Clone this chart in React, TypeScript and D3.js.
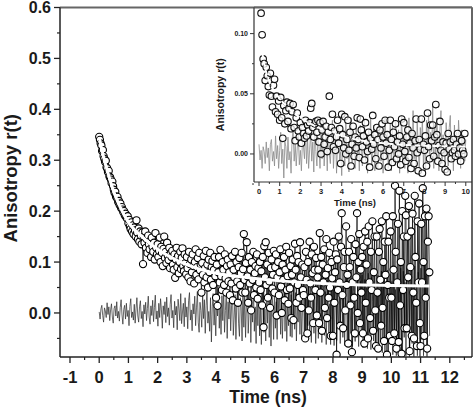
import React from "react";
import * as d3 from "d3";

// ---------- main panel data (anisotropy in units of 0.001) ----------
const MAIN_T0 = 0;
const MAIN_DT = 0.025; // ns per channel
const mainData = [
  346, 340, 333, 329, 318, 320, 308, 303, 297, 299, 286, 284, 277, 279, 268, 266, 262, 255, 258, 249,
  242, 236, 238, 229, 226, 228, 218, 220, 212, 215, 206, 208, 203, 198, 200, 192, 195, 188, 186, 190,
  176, 183, 170, 165, 178, 160, 172, 155, 168, 162, 150, 182, 158, 145, 166, 140, 160, 152, 135, 158,
  96, 150, 138, 160, 128, 145, 118, 152, 135, 125, 142, 110, 148, 130, 120, 138, 105, 157, 128, 115,
  135, 110, 122, 148, 100, 130, 118, 92, 126, 150, 108, 120, 98, 138, 112, 104, 128, 88, 118, 110,
  122, 95, 85, 115, 69, 105, 128, 90, 112, 78, 100, 120, 86, 108, 127, 92, 82, 115, 98, 76,
  110, 88, 70, 120, 96, 62, 105, 80, 115, 92, 58, 100, 125, 75, 90, 108, 66, 118, 84, 95,
  40, 98, 75, 112, 60, 88, 122, 70, 95, 50, 105, 80, 118, 65, 90, 102, 55, 85, 110, 72,
  30, 95, 14, 80, 110, 60, 124, 72, 45, 100, 85, 55, 115, 68, 40, 92, 105, 62, 80, 35,
  95, 58, 112, 25, 85, 70, 120, 48, 100, 62, 20, 90, 108, 55, 78, 118, 40, 86, 155, 65,
  40, 98, 139, 72, 20, 110, 58, 85, 5, 100, 65, 120, 35, 78, 92, 50, 115, 28, 88, 60,
  100, 45, 82, 15, 110, -28, 131, 70, 139, 55, 95, 30, 118, 62, 10, 88, 105, 48, 75, 122,
  40, 90, 115, -5, 70, 100, 35, 80, 125, 52, 0, 95, 65, 110, 25, 85, 130, 45, 72, 18,
  118, 48, 92, -10, 75, 105, -14, 60, 136, 85, 20, 112, 55, 100, 30, 139, 70, 10, 95, 45,
  35, 90, -50, 120, 65, -40, 100, 5, 140, 58, 30, 115, 78, -20, 130, 85, 45, 108, -5, 70,
  85, -20, 157, 40, 110, -35, 95, 60, 125, 10, 75, 145, -10, 88, 30, 118, 50, -45, 100, 68,
  -45, 140, 20, 80, 115, -82, 105, 45, 150, 60, -25, 130, 196, 35, -30, 90, 120, 5, 170, 55,
  75, -60, 120, 90, 15, 145, -77, 60, 110, 30, -40, 135, 70, 196, 0, 100, 155, -20, 85, 40,
  110, -40, 130, -60, 160, 20, 95, 140, -50, 170, 60, -10, 120, 45, 180, -35, 80, 150, 5, -65,
  150, 40, -70, 120, 165, 65, -25, 180, 10, 100, -55, 140, 75, 190, -82, 55, 140, 30, -45, 160,
  30, -55, 190, 85, -40, 250, 120, -70, 60, 175, -57, 240, 15, 100, -80, 200, 45, 150, -30, 230,
  192, -30, 150, 70, 210, -75, 90, 160, -45, 195, 40, -50, 230, 110, 20, -65, 180, 60, 215, -20,
  -65, 175, 60, 245, 100, -45, 190, 30, 205, -70, 140, 190, 80,
];

const MAIN_RES_T0 = 0;
const MAIN_RES_DT = 0.03;
const mainResid = [
  2, -12, 8, 15, -5, -18, 10, 4, -9, 20, -3, 12, -15, 6, 18, -8, -20, 9, 14, -6,
  22, -10, 3, -16, 11, 26, -4, -22, 7, 15, -12, 19, -7, 5, -25, 13, 28, -9, 2, -14,
  17, -20, 8, 30, -6, -18, 12, 24, -11, 3, -27, 16, -2, 21, -15, 9, 33, -8, -22, 14,
  -5, 25, -17, 11, 35, -12, 4, -26, 19, -9, 28, 6, -30, 14, -3, 22, -19, 31, -7, 10,
  -24, 17, 36, -10, 5, -29, 23, -4, 13, -33, 27, 8, -15, 38, -21, 2, 19, -27, 30, -8,
  12, -31, 24, 40, -14, 6, -35, 18, -2, 33, -25, 10, 42, -18, -38, 21, 5, -28, 35, -11,
  26, -40, 15, 44, -20, 3, -36, 30, -57, 12, 38, -24, 8, -45, 28, -6, 46, -30, 17, -42,
  34, -15, 48, -38, 5, 40, -50, 22, -12, 45, -35, 14, 52, -44, -8, 36, -52, 25, 48, -20,
  -46, 30, 10, -55, 50, -28, 38, -48, 18, 56, -40, 4, 44, -58, 26, -18, 54, -36, 12, -60,
  48, -25, 60, -45, 20, -62, 35, 58, -38, 8, -55, 50, -20, 64, -48, 30, -65, 42, 15, -52,
  48, -30, 22, -52, 45, -12, 55, -42, 30, -50, 8, 54, -36, 42, -56, 22, -25, 58, -46, 36,
  -48, 20, 52, -32, 40, -55, 25, -18, 56, -42, 34, -50, 10, 58, -36, 44, -54, 28, -25, 60,
  -46, 38, -58, 22, 60, -40, 48, -60, 14, 54, -50, 36, -32, 62, -58, 26, 52, -44, 42, -62,
  32, 64, -50, 18, -62, 56, -38, 46, -64, 28, 66, -54, 40, -30, 68, -60, 22, 58, -48, 50,
  -64, 36, 70, -52, 24, -62, 64, -40, 54, -66, 42, 72, -56, 30, -48, 74, -66, 40, 62, -45,
  75, -68, 28, 66, -58, 50, -70, 78, -42, 44, -72, 70, 22, -55, 80, -74, 48, -36, 74, -76,
  58, -52, 82, -78, 32, 72, -80, 52, -45, 84, -78, 40, 76, -58, 62, -82, 86, -40, 46, -84,
  78, -54, 66, -84, 88, 25, -80, 82, -48, 60, -84, 90, -38, 70, -86, 44, 85, -60, 55, -86,
  92, -45, 65, -84, 80, 32, -86, 88, -52, 68, -84, 94, -40, 74, -86, 52, 82, -45,
];

const mainFitT = [0, 0.1, 0.25, 0.5, 0.75, 1, 1.5, 2, 2.5, 3, 3.5, 4, 5, 6, 7, 8, 9, 10, 11.3];
const mainFitR = [0.345, 0.318, 0.285, 0.238, 0.204, 0.178, 0.148, 0.125, 0.108, 0.095, 0.085, 0.078, 0.07, 0.064, 0.06, 0.057, 0.055, 0.054, 0.053];

const mainXTicks = [-1, 0, 1, 2, 3, 4, 5, 6, 7, 8, 9, 10, 11, 12];
const mainYTicks = [0.0, 0.1, 0.2, 0.3, 0.4, 0.5, 0.6];

// ---------- inset data (units of 0.001) ----------
const INSET_T0 = 0.1;
const INSET_DT = 0.05;
const insetData = [
  117, 99, 79, 75, 61, 72, 65, 56, 49, 67, 48, 39, 57, 62, 35, 48, 33, 44, 28,
  47, 30, 13, 40, 25, 36, 43, 27, 38, 42, 21, 35, 41, 22, 11, 30, 34, 19, 14,
  26, 9, 22, 17, 13, 28, 15, 24, 19, 26, 38, 42, 22, 14, 25, 27, 18, 28, 10, 26,
  0, 20, 27, 8, 14, 23, 2, 18, 48, 12, 22, 33, 6, 19, 3, 14, 28, 9, 21, -8,
  33, 16, 5, 31, 0, 12, 28, 3, 18, -10, 8, 23, -2, 14, 5, 30, 12, -3, 29, 20,
  6, 15, -5, 26, 10, 2, 18, -11, 13, 4, 32, 8, 16, -4, 22, 12, -10, 20, 5, 25,
  14, -2, 28, 9, 16, -11, 3, 28, 12, -7, 18, 6, 25, -4, 10, 0, 15, -9, 29, 8,
  26, 2, -6, 14, 20, -3, 9, -12, 17, 5, -8, 11, 29, 1, -14, 12, 4, 29, -16, 8,
  3, 15, -10, 34, 6, -4, 24, 11, 24, -2, 14, 41, 16, -6, 7, 27, 3, -8, 10, 1,
  -13, 9, -15, 17, 4, 10, -4, 1, 12, 3, -2, 8, 17, 0, 5, -6, 11, 3, 0, 17,
];

const INSET_RES_T0 = 0;
const INSET_RES_DT = 0.05;
const insetResid = [
  8, -5, 3, -12, 6, 2, -8, 10, -3, 5, -14, 8, 12, -6, 2, -10, 15, -4, 7, -12, 3,
  18, -8, 4, -20, 10, 6, -12, 14, -5, 2, -16, 12, 20, -6, 8, -10, 5, 16, -9, 3,
  -14, 10, 6, -4, 22, -8, 12, -12, 4, 18, -6, 10, -15, 24, 2, -10, 14, 6, -12, 20,
  -4, 26, -10, 8, 16, -14, 22, 0, -8, 12, 28, -12, 6, 18, -16, 10, 24, -6, 2, -18,
  14, 20, -10, 26, -4, 8, -15, 18, 30, -8, 4, 16, -12, 22, -2, 10, -14, 24, 6, -10,
  18, 28, -6, 12, -16, 20, 4, 30, -10, 8, 24, -14, 16, 2, -12, 26, 10, -6, 20, -16,
  12, 30, -4, 18, -12, 8, 26, -14, 22, 4, -10, 28, 14, -8, 20, -16, 6, 32, -6, 14,
  -12, 24, 10, -16, 30, 2, 20, -10, 36, -4, 14, -14, 26, 8, -18, 22, 4, 30, -8, 12,
  -16, 28, 6, 34, -10, 18, 2, 40, -12, 24, -6, 30, 10, -14, 20, 36, -8, 16, 4, -12,
  26, 8, -10, 22, 32, -6, 14, -14, 24, 4, 18, -8, 28, 10, -12, 20, 2, 16, -6, 12,
];

const insetFitT = [0.15, 0.25, 0.5, 0.75, 1, 1.5, 2, 2.5, 3, 4, 5, 6, 7, 8, 9, 10];
const insetFitR = [0.085, 0.075, 0.06, 0.052, 0.046, 0.037, 0.03, 0.025, 0.021, 0.015, 0.011, 0.009, 0.0075, 0.0068, 0.0064, 0.006];

const insetXTicks = [0, 1, 2, 3, 4, 5, 6, 7, 8, 9, 10];
const insetYTicks = [0.0, 0.05, 0.1];

const FONT = "'Liberation Sans', Arial, Helvetica, sans-serif";

export default function App() {
  const W = 475;
  const H = 407;
  // main plot frame
  const mL = 60, mR = 472, mT = 7.5, mB = 357;
  const x = d3.scaleLinear().domain([-1.342, 12.76]).range([mL, mR]);
  const y = d3.scaleLinear().domain([-0.0865, 0.6]).range([mB, mT]);

  // inset frame
  const iL = 254, iR = 472, iT = 7.5, iB = 182;
  const ix = d3.scaleLinear().domain([-0.242, 10.3]).range([iL, iR]);
  const iy = d3.scaleLinear().domain([-0.0233, 0.1217]).range([iB, iT]);

  const mainPts = mainData.map((v, i) => [MAIN_T0 + i * MAIN_DT, v / 1000] as [number, number]);
  const mainResPts = mainResid.map((v, i) => [MAIN_RES_T0 + i * MAIN_RES_DT, v / 1000] as [number, number]);
  const mainFitPts = mainFitT.map((t, i) => [t, mainFitR[i]] as [number, number]);

  const insetPts = insetData.map((v, i) => [INSET_T0 + i * INSET_DT, v / 1000] as [number, number]);
  const insetResPts = insetResid.map((v, i) => [INSET_RES_T0 + i * INSET_RES_DT, v / 1000] as [number, number]);
  const insetFitPts = insetFitT.map((t, i) => [t, insetFitR[i]] as [number, number]);

  const lineM = d3.line<[number, number]>().x((d) => x(d[0])).y((d) => y(d[1]));
  const fitM = d3.line<[number, number]>().x((d) => x(d[0])).y((d) => y(d[1])).curve(d3.curveMonotoneX);
  const lineI = d3.line<[number, number]>().x((d) => ix(d[0])).y((d) => iy(d[1]));
  const fitI = d3.line<[number, number]>().x((d) => ix(d[0])).y((d) => iy(d[1])).curve(d3.curveMonotoneX);

  const mainMinorX = d3.range(-1, 12.6, 0.5).filter((v) => Math.abs(v - Math.round(v)) > 0.1);
  const mainMinorY = d3.range(-0.05, 0.6, 0.05).filter((v) => Math.abs(v * 10 - Math.round(v * 10)) > 0.1);
  const insetMinorX = d3.range(0.5, 10.3, 1);
  const insetMinorY = [-0.025, 0.025, 0.075];

  return (
    <svg width={W} height={H} style={{ position: "absolute", left: 0, top: 0, background: "#fff" }} fontFamily={FONT}>
      <defs>
        <clipPath id="mainClip">
          <rect x={mL} y={mT} width={mR - mL} height={mB - mT} />
        </clipPath>
        <clipPath id="insetClip">
          <rect x={iL} y={iT} width={iR - iL} height={iB - iT} />
        </clipPath>
      </defs>

      {/* ---------- main plot ---------- */}
      <g clipPath="url(#mainClip)">
        <path d={lineM(mainResPts) || ""} fill="none" stroke="#2a2a2a" strokeWidth={0.7} />
        <path d={lineM(mainPts) || ""} fill="none" stroke="#000" strokeWidth={0.7} />
        {mainPts.map((p, i) => (
          <circle key={i} cx={x(p[0])} cy={y(p[1])} r={3.6} fill="#fff" stroke="#000" strokeWidth={1.1} />
        ))}
        <path d={fitM(mainFitPts) || ""} fill="none" stroke="#fff" strokeWidth={3} />
      </g>

      {/* main frame */}
      <line x1={mL} x2={mR} y1={mT} y2={mT} stroke="#666" strokeWidth={2} />
      <line x1={mR} x2={mR} y1={mT} y2={mB} stroke="#666" strokeWidth={2} />
      <line x1={mL} x2={mL} y1={mT} y2={mB} stroke="#222" strokeWidth={1.5} />
      <line x1={mL} x2={mR} y1={mB} y2={mB} stroke="#222" strokeWidth={1.5} />

      {mainYTicks.map((v) => (
        <g key={"my" + v}>
          <line x1={mL - 6} x2={mL} y1={y(v)} y2={y(v)} stroke="#222" strokeWidth={1.3} />
          <text x={mL - 9} y={y(v)} dy="0.36em" textAnchor="end" fontSize={16} fontWeight="bold" fill="#1a1a1a">
            {v.toFixed(1)}
          </text>
        </g>
      ))}
      {mainMinorY.map((v) => (
        <line key={"mmy" + v} x1={mL - 3} x2={mL} y1={y(v)} y2={y(v)} stroke="#222" strokeWidth={1.2} />
      ))}
      {mainXTicks.map((v) => (
        <g key={"mx" + v}>
          <line x1={x(v)} x2={x(v)} y1={mB} y2={mB + 6} stroke="#222" strokeWidth={1.3} />
          <text x={x(v)} y={mB + 26} textAnchor="middle" fontSize={16.5} fontWeight="bold" fill="#1a1a1a">
            {v < 0 ? "-" + Math.abs(v) : String(v)}
          </text>
        </g>
      ))}
      {mainMinorX.map((v) => (
        <line key={"mmx" + v} x1={x(v)} x2={x(v)} y1={mB} y2={mB + 3} stroke="#222" strokeWidth={1.2} />
      ))}
      <text x={268} y={403} textAnchor="middle" fontSize={17.5} fontWeight="bold" fill="#1a1a1a">
        Time (ns)
      </text>
      <text transform={`translate(17,${(mT + mB) / 2 - 4}) rotate(-90)`} textAnchor="middle" fontSize={18.5} fontWeight="bold" fill="#1a1a1a">
        Anisotropy r(t)
      </text>

      {/* ---------- inset ---------- */}
      <rect x={iL} y={iT} width={iR - iL} height={iB - iT} fill="#fff" />
      <g clipPath="url(#insetClip)">
        <path d={lineI(insetResPts) || ""} fill="none" stroke="#8a8a8a" strokeWidth={0.8} />
        {insetPts.map((p, i) => (
          <circle key={i} cx={ix(p[0])} cy={iy(p[1])} r={3.3} fill="#fff" fillOpacity={0.75} stroke="#111" strokeWidth={1.1} />
        ))}
        <path d={fitI(insetFitPts) || ""} fill="none" stroke="#fff" strokeWidth={2} strokeDasharray="6,3" />
      </g>
      <line x1={iL} x2={iR} y1={iT} y2={iT} stroke="#666" strokeWidth={2} />
      <line x1={iR} x2={iR} y1={iT} y2={iB} stroke="#666" strokeWidth={2} />
      <line x1={iL} x2={iL} y1={iT} y2={iB} stroke="#333" strokeWidth={1.2} />
      <line x1={iL} x2={iR} y1={iB} y2={iB} stroke="#333" strokeWidth={1.2} />
      {insetYTicks.map((v) => (
        <g key={"iy" + v}>
          <line x1={iL - 4} x2={iL} y1={iy(v)} y2={iy(v)} stroke="#333" strokeWidth={1} />
          <text x={iL - 6} y={iy(v)} dy="0.36em" textAnchor="end" fontSize={7} fontWeight="bold" fill="#1a1a1a">
            {v.toFixed(2)}
          </text>
        </g>
      ))}
      {insetMinorY.map((v) => (
        <line key={"imy" + v} x1={iL - 2} x2={iL} y1={iy(v)} y2={iy(v)} stroke="#333" strokeWidth={1} />
      ))}
      {insetXTicks.map((v) => (
        <g key={"ix" + v}>
          <line x1={ix(v)} x2={ix(v)} y1={iB} y2={iB + 4} stroke="#333" strokeWidth={1} />
          <text x={ix(v)} y={iB + 11.5} textAnchor="middle" fontSize={7.5} fontWeight="bold" fill="#1a1a1a">
            {String(v)}
          </text>
        </g>
      ))}
      {insetMinorX.map((v) => (
        <line key={"imx" + v} x1={ix(v)} x2={ix(v)} y1={iB} y2={iB + 2} stroke="#333" strokeWidth={1} />
      ))}
      <text x={355} y={206} textAnchor="middle" fontSize={9.5} fontWeight="bold" fill="#1a1a1a">
        Time (ns)
      </text>
      <text transform={`translate(224,${(iT + iB) / 2}) rotate(-90)`} textAnchor="middle" fontSize={10.5} fontWeight="bold" fill="#1a1a1a">
        Anisotropy r(t)
      </text>
    </svg>
  );
}
